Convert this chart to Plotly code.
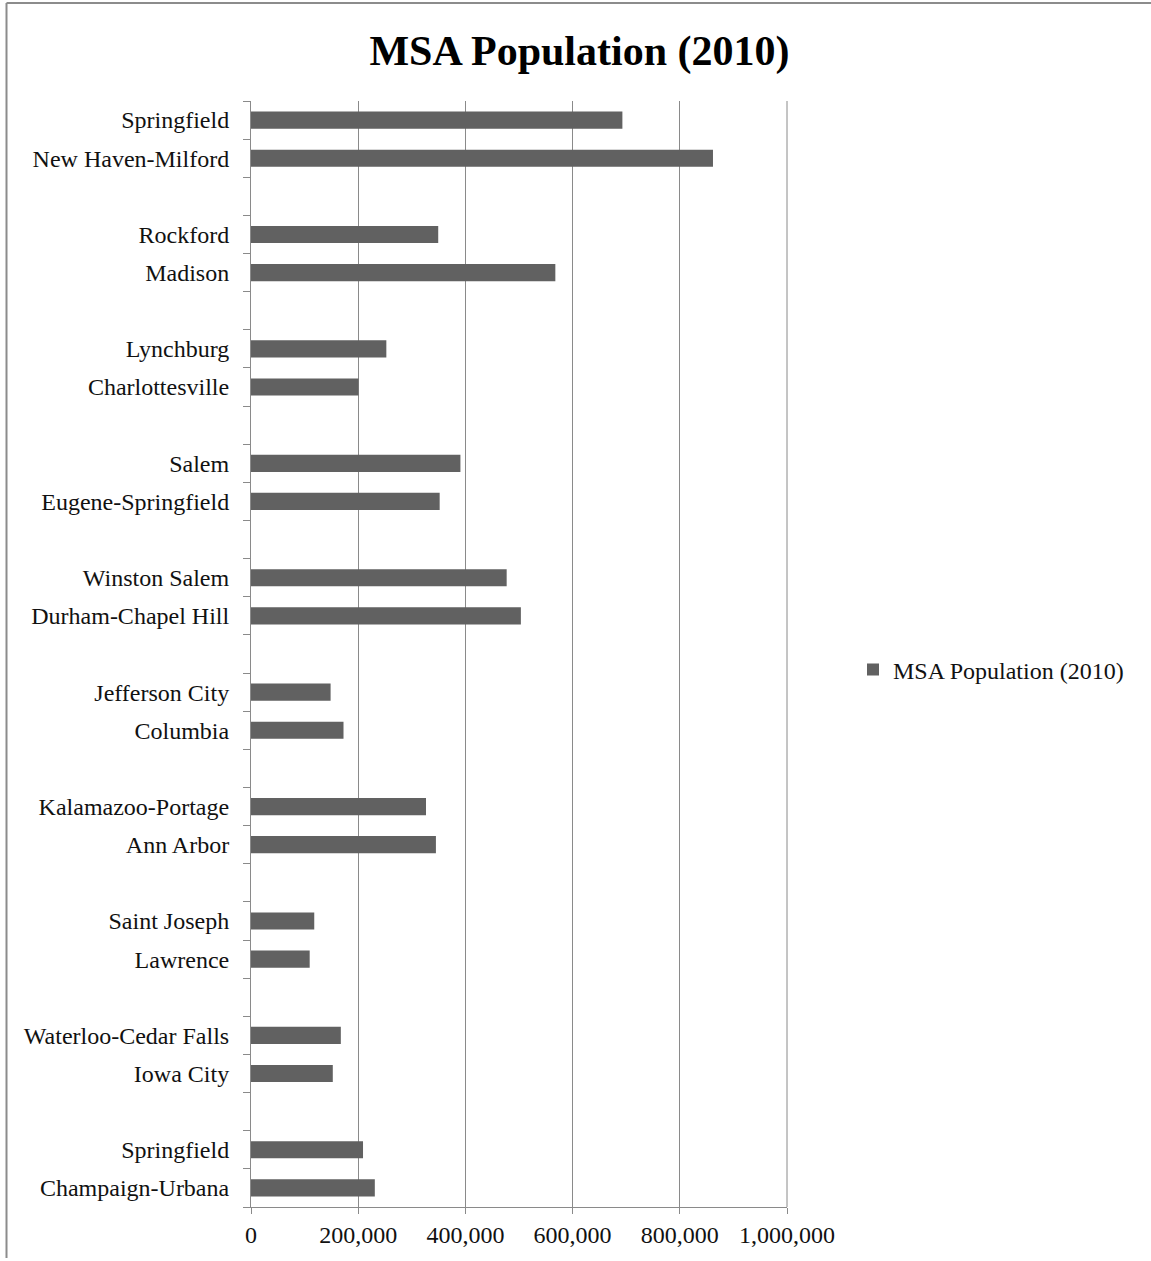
import plotly.graph_objects as go

# Categories listed bottom-to-top; "" marks a blank separator row
categories = [
    "Champaign-Urbana", "Springfield", "",
    "Iowa City", "Waterloo-Cedar Falls", "",
    "Lawrence", "Saint Joseph", "",
    "Ann Arbor", "Kalamazoo-Portage", "",
    "Columbia", "Jefferson City", "",
    "Durham-Chapel Hill", "Winston Salem", "",
    "Eugene-Springfield", "Salem", "",
    "Charlottesville", "Lynchburg", "",
    "Madison", "Rockford", "",
    "New Haven-Milford", "Springfield",
]
population = [
    231000, 209000, None,
    152600, 167600, None,
    109500, 118000, None,
    345000, 326500, None,
    172600, 148500, None,
    503500, 477000, None,
    352000, 390700, None,
    200500, 252500, None,
    567800, 349300, None,
    861900, 692900,
]
x_ticks = [0, 200000, 400000, 600000, 800000, 1000000]
x_tick_labels = ["0", "200,000", "400,000", "600,000", "800,000", "1,000,000"]
series_name = "MSA Population (2010)"
title_text = "MSA Population (2010)"

# unique category keys (zero-width spaces keep repeated/blank labels distinct)
seen = {}
keys = []
for c in categories:
    n = seen.get(c, 0)
    seen[c] = n + 1
    keys.append(c + "\u200b" * (n + (1 if c == "" else 0)))

W, H = 1151, 1261
ML, MR, MT, MB = 251, W - 787, 101, H - 1207
PW, PH = W - ML - MR, H - MT - MB

FONT = "Liberation Serif"
GRID = "#8a8a8a"

fig = go.Figure()
fig.add_trace(go.Bar(
    y=keys, x=population, orientation="h", name=series_name,
    marker=dict(color="#616161", line=dict(width=0)),
    showlegend=True,
))

fig.update_layout(
    width=W, height=H,
    margin=dict(l=ML, r=MR, t=MT, b=MB, pad=0),
    paper_bgcolor="white", plot_bgcolor="white",
    font=dict(family=FONT, size=24, color="#111111"),
    bargap=0.55,
    title=dict(text="<b>" + title_text + "</b>", x=579.5 / W, xanchor="center",
               y=1 - 50 / H, yanchor="middle",
               font=dict(family=FONT, size=42, color="#000000")),
    legend=dict(x=(853 - ML) / PW, xanchor="left", y=(1207 - 670) / PH, yanchor="middle",
                font=dict(family=FONT, size=24, color="#111111"),
                bgcolor="rgba(0,0,0,0)", itemwidth=30),
    xaxis=dict(range=[0, 1000000], tickvals=x_ticks, ticktext=x_tick_labels,
               showgrid=True, gridcolor=GRID, gridwidth=1,
               showline=True, linecolor=GRID, linewidth=1,
               ticks="outside", ticklen=6, tickcolor=GRID,
               zeroline=False, fixedrange=True),
    yaxis=dict(type="category", categoryorder="array", categoryarray=keys,
               tickson="boundaries", ticks="outside", ticklen=7, tickcolor=GRID,
               showline=True, linecolor=GRID, linewidth=1,
               showgrid=False, zeroline=False,
               ticklabelstandoff=16),
    shapes=[
        dict(type="line", xref="paper", yref="paper",
             x0=(6.5 - ML) / PW, x1=(6.5 - ML) / PW,
             y0=(1207 - 1258) / PH, y1=1 + (MT - 3) / PH,
             line=dict(color="#8c8c8c", width=2)),
        dict(type="line", xref="paper", yref="paper",
             x0=(6.5 - ML) / PW, x1=(W + 5 - ML) / PW,
             y0=1 + (MT - 3) / PH, y1=1 + (MT - 3) / PH,
             line=dict(color="#8c8c8c", width=2)),
        dict(type="line", xref="paper", yref="paper",
             x0=1, x1=1, y0=0, y1=1,
             line=dict(color=GRID, width=1)),
    ],
)

fig.write_html("out.html")
